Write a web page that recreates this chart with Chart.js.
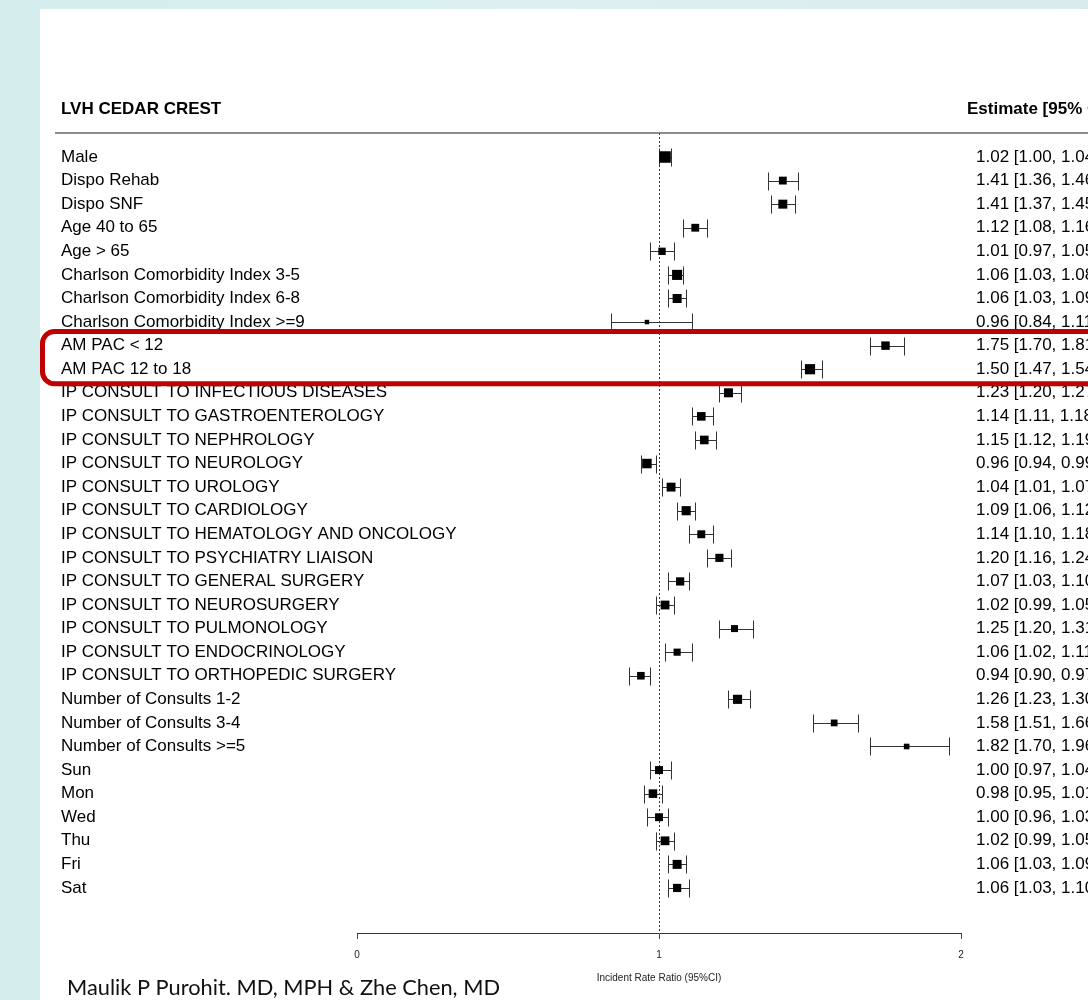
<!DOCTYPE html>
<html>
<head>
<meta charset="utf-8">
<script src="https://cdn.jsdelivr.net/npm/chart.js@4.4.1/dist/chart.umd.min.js"></script>
<style>
  html, body { margin: 0; padding: 0; }
  body { width: 1088px; height: 1000px; overflow: hidden; position: relative;
         background: linear-gradient(90deg, #d6eded 0%, #dcf0f0 50%, #d8ecee 100%); }
  #panel { position: absolute; left: 40px; top: 9px; right: 0; bottom: 0; background: #fff; }
  #chart { position: absolute; left: 0; top: 0; }
</style>
</head>
<body>
<div id="panel"></div>
<canvas id="chart" width="1088" height="1000"></canvas>
<script>
const labels = [
  'Male', 'Dispo Rehab', 'Dispo SNF', 'Age 40 to 65', 'Age > 65',
  'Charlson Comorbidity Index 3-5', 'Charlson Comorbidity Index 6-8', 'Charlson Comorbidity Index >=9',
  'AM PAC < 12', 'AM PAC 12 to 18',
  'IP CONSULT TO INFECTIOUS DISEASES', 'IP CONSULT TO GASTROENTEROLOGY', 'IP CONSULT TO NEPHROLOGY',
  'IP CONSULT TO NEUROLOGY', 'IP CONSULT TO UROLOGY', 'IP CONSULT TO CARDIOLOGY',
  'IP CONSULT TO HEMATOLOGY AND ONCOLOGY', 'IP CONSULT TO PSYCHIATRY LIAISON', 'IP CONSULT TO GENERAL SURGERY',
  'IP CONSULT TO NEUROSURGERY', 'IP CONSULT TO PULMONOLOGY', 'IP CONSULT TO ENDOCRINOLOGY',
  'IP CONSULT TO ORTHOPEDIC SURGERY', 'Number of Consults 1-2', 'Number of Consults 3-4', 'Number of Consults >=5',
  'Sun', 'Mon', 'Wed', 'Thu', 'Fri', 'Sat'
];
const estimates = [1.02, 1.41, 1.41, 1.12, 1.01, 1.06, 1.06, 0.96, 1.75, 1.50,
  1.23, 1.14, 1.15, 0.96, 1.04, 1.09, 1.14, 1.20, 1.07, 1.02, 1.25, 1.06, 0.94,
  1.26, 1.58, 1.82, 1.00, 0.98, 1.00, 1.02, 1.06, 1.06];
const lower = [1.00, 1.36, 1.37, 1.08, 0.97, 1.03, 1.03, 0.84, 1.70, 1.47,
  1.20, 1.11, 1.12, 0.94, 1.01, 1.06, 1.10, 1.16, 1.03, 0.99, 1.20, 1.02, 0.90,
  1.23, 1.51, 1.70, 0.97, 0.95, 0.96, 0.99, 1.03, 1.03];
const upper = [1.04, 1.46, 1.45, 1.16, 1.05, 1.08, 1.09, 1.11, 1.81, 1.54,
  1.27, 1.18, 1.19, 0.99, 1.07, 1.12, 1.18, 1.24, 1.10, 1.05, 1.31, 1.11, 0.97,
  1.30, 1.66, 1.96, 1.04, 1.01, 1.03, 1.05, 1.09, 1.10];
const xTicks = [0, 1, 2];
const highlightRows = [8, 9];

const FONT = "'Liberation Sans', Arial, sans-serif";

// box size follows precision (1 / log CI width), like a weighted forest plot
const precision = lower.map((lo, i) => 1 / Math.log(upper[i] / lo));
const pMin = Math.min(...precision), pMax = Math.max(...precision);
const boxSide = precision.map(p => 4.5 + 7 * (p - pMin) / (pMax - pMin));

const fmt = i => `${estimates[i].toFixed(2)} [${lower[i].toFixed(2)}, ${upper[i].toFixed(2)}]`;

const rowAxis = (position, extra) => Object.assign({
  type: 'linear', position, reverse: true, min: -1.018, max: 32.91,
  grid: { display: false, drawTicks: false }, border: { display: false },
  afterBuildTicks: s => { s.ticks = labels.map((_, i) => ({ value: i })); },
}, extra);

const forestPlugin = {
  id: 'forest',
  beforeDatasetsDraw(chart) {
    const { ctx, scales: { x, y }, chartArea } = chart;
    ctx.save();
    // reference line at 1
    ctx.strokeStyle = '#333';
    ctx.lineWidth = 1;
    ctx.setLineDash([2, 2]);
    const xr = Math.round(x.getPixelForValue(1)) + 0.5;
    ctx.beginPath();
    ctx.moveTo(xr, chartArea.top);
    ctx.lineTo(xr, chartArea.bottom);
    ctx.stroke();
    ctx.setLineDash([]);
    // confidence intervals
    ctx.strokeStyle = '#333';
    labels.forEach((_, i) => {
      const yy = Math.round(y.getPixelForValue(i)) + 0.5;
      const x0 = Math.round(x.getPixelForValue(lower[i])) + 0.5;
      const x1 = Math.round(x.getPixelForValue(upper[i])) + 0.5;
      ctx.beginPath();
      ctx.moveTo(x0, yy); ctx.lineTo(x1, yy);
      ctx.moveTo(x0, yy - 9); ctx.lineTo(x0, yy + 9);
      ctx.moveTo(x1, yy - 9); ctx.lineTo(x1, yy + 9);
      ctx.stroke();
    });
    ctx.restore();
  },
  afterDraw(chart) {
    const { ctx, scales: { y } } = chart;
    ctx.save();
    // header
    ctx.fillStyle = '#000';
    ctx.font = `bold 17px ${FONT}`;
    ctx.textBaseline = 'middle';
    ctx.textAlign = 'left';
    ctx.fillText('LVH CEDAR CREST', 61, 109);
    ctx.fillText('Estimate [95% CI]', 967, 109);
    ctx.strokeStyle = '#666';
    ctx.lineWidth = 1.5;
    ctx.beginPath();
    ctx.moveTo(55, 133); ctx.lineTo(1088, 133);
    ctx.stroke();
    // highlight box
    const top = y.getPixelForValue(highlightRows[0] - 0.6);
    const bot = y.getPixelForValue(highlightRows[1] + 0.62);
    ctx.strokeStyle = '#c00000';
    ctx.lineWidth = 5;
    ctx.beginPath();
    ctx.roundRect(42.5, top, 1100, bot - top, 12);
    ctx.stroke();
    // author
    ctx.fillStyle = '#111';
    ctx.font = `21.8px Lato, 'Open Sans', sans-serif`;
    ctx.fillText('Maulik P Purohit. MD, MPH & Zhe Chen, MD', 67, 988);
    ctx.restore();
  }
};

new Chart(document.getElementById('chart'), {
  type: 'scatter',
  data: {
    datasets: [{
      data: labels.map((_, i) => ({ x: estimates[i], y: i })),
      pointStyle: 'rect',
      pointRadius: boxSide.map(s => s / Math.SQRT2),
      backgroundColor: '#000',
      borderColor: '#000',
      borderWidth: 0
    }]
  },
  options: {
    responsive: false,
    animation: false,
    events: [],
    layout: { padding: { top: 133, left: 61, right: 0, bottom: 0 } },
    plugins: { legend: { display: false }, tooltip: { enabled: false } },
    scales: {
      x: {
        type: 'linear', min: 0, max: 2,
        afterBuildTicks: s => { s.ticks = xTicks.map(v => ({ value: v })); },
        afterFit: s => { s.height = 67; },
        grid: { drawOnChartArea: false, tickLength: 6, color: '#444' },
        border: { color: '#333', width: 1 },
        ticks: { color: '#222', padding: 10, font: { family: FONT, size: 10 } },
        title: { display: true, text: 'Incident Rate Ratio (95%CI)', color: '#222',
                 padding: { top: 0, bottom: 16 }, font: { family: FONT, size: 10 } }
      },
      y: rowAxis('left', {
        afterFit: s => { s.width = 296; },
        // mirrored so long labels may run into the plot area, as in the original
        ticks: { mirror: true, crossAlign: 'near', padding: -296, color: '#000',
                 font: { family: FONT, size: 17 }, callback: v => labels[v] }
      }),
      yr: rowAxis('right', {
        afterFit: s => { s.width = 127; },
        ticks: { crossAlign: 'near', padding: 15, color: '#000',
                 font: { family: FONT, size: 17 }, callback: v => fmt(v) }
      })
    }
  },
  plugins: [forestPlugin]
});
</script>
</body>
</html>
